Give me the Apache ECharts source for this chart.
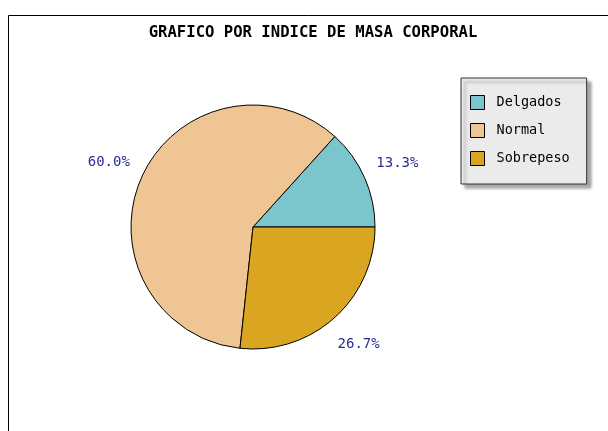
<!DOCTYPE html>
<html>
<head>
<meta charset="utf-8">
<script src="https://cdn.jsdelivr.net/npm/echarts@6/dist/echarts.min.js"></script>
<style>
    html, body { margin: 0; padding: 0; background: #fff; }
    #chart { width: 608px; height: 431px; }
</style>
</head>
<body>
<div id="chart"></div>
<script>
// datos del grafico
var categorias = ["Delgados", "Normal", "Sobrepeso"];
var valores = [13.3, 60.0, 26.7];
var colores = ["#7bc5cd", "#efc594", "#daa520"];

var chart = echarts.init(document.getElementById("chart"));

var datos = categorias.map(function (c, i) {
    return { name: c, value: valores[i], itemStyle: { color: colores[i] } };
});

var fuente = "DejaVu Sans Mono";

var option = {
    animation: false,
    title: {
        text: "GRAFICO POR INDICE DE MASA CORPORAL",
        left: 308,
        top: 20,
        textAlign: "center",
        textStyle: { fontFamily: fuente, fontSize: 15.6, fontWeight: "bold", color: "#000" }
    },
    graphic: [
        {
            type: "rect",
            shape: { x: 8.5, y: 15.5, width: 700, height: 500 },
            style: { fill: "none", stroke: "#000", lineWidth: 1 },
            silent: true
        }
    ],
    legend: {
        orient: "vertical",
        left: 461,
        top: 78,
        data: categorias,
        icon: "rect",
        itemWidth: 14,
        itemHeight: 14,
        itemGap: 13,
        padding: [17, 17, 18, 9],
        backgroundColor: "#ebebeb",
        borderColor: "#333",
        borderWidth: 1,
        shadowColor: "rgba(0,0,0,0.35)",
        shadowOffsetX: 4,
        shadowOffsetY: 4,
        shadowBlur: 3,
        itemStyle: { borderColor: "#000", borderWidth: 1 },
        textStyle: { fontFamily: fuente, fontSize: 13.5, color: "#000", padding: [0, 0, 0, 7] }
    },
    series: [
        {
            name: "IMC",
            type: "pie",
            center: [253, 227],
            radius: 122,
            startAngle: 0,
            clockwise: false,
            label: { show: false },
            labelLine: { show: false },
            itemStyle: { borderColor: "#000", borderWidth: 1 },
            emphasis: { disabled: true },
            data: datos
        },
        {
            name: "etiquetas",
            type: "pie",
            center: [253, 227],
            radius: [140, 170],
            startAngle: 0,
            clockwise: false,
            silent: true,
            legendHoverLink: false,
            itemStyle: { color: "transparent" },
            label: {
                show: true,
                position: "inside",
                formatter: function (p) { return p.value.toFixed(1) + "%"; },
                fontFamily: fuente,
                fontSize: 14,
                color: "#2b2b9b"
            },
            labelLine: { show: false },
            emphasis: { disabled: true },
            data: categorias.map(function (c, i) { return { name: c, value: valores[i] }; })
        }
    ]
};

chart.setOption(option);
</script>
</body>
</html>
